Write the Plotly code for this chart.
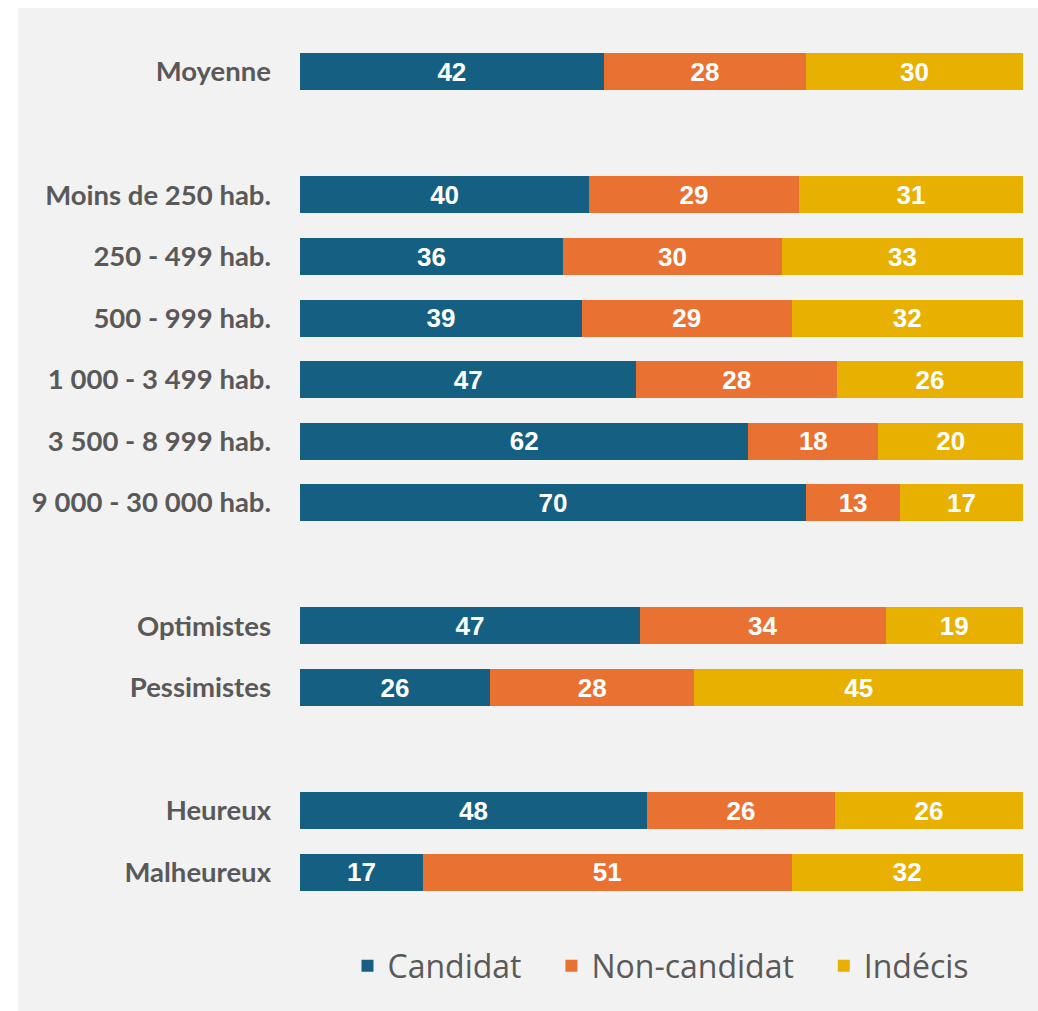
import plotly.graph_objects as go

# ---- data ----
categories_groups = [
    ["Moyenne"],
    ["Moins de 250 hab.", "250 - 499 hab.", "500 - 999 hab.", "1\u202f000 - 3\u202f499 hab.",
     "3\u202f500 - 8\u202f999 hab.", "9\u202f000 - 30\u202f000 hab."],
    ["Optimistes", "Pessimistes"],
    ["Heureux", "Malheureux"],
]
candidat =     [42, 40, 36, 39, 47, 62, 70, 47, 26, 48, 17]
non_candidat = [28, 29, 30, 29, 28, 18, 13, 34, 28, 26, 51]
indecis =      [30, 31, 33, 32, 26, 20, 17, 19, 45, 26, 32]
series_names = ["Candidat", "Non-candidat", "Indécis"]
series_colors = ["#156082", "#E97132", "#E8B000"]

# ---- row positions with blank row between groups ----
categories = []
row_pos = []
pos = 0
for gi, grp in enumerate(categories_groups):
    if gi > 0:
        pos += 1
    for c in grp:
        categories.append(c)
        row_pos.append(pos)
        pos += 1
n_slots = pos

fig = go.Figure()
for i, (name, vals, col) in enumerate(zip(series_names, [candidat, non_candidat, indecis], series_colors)):
    pad = "\u00a0\u00a0\u00a0" if i < len(series_names) - 1 else ""
    fig.add_trace(go.Bar(
        name=name + pad, y=row_pos, x=vals, orientation="h",
        marker=dict(color=col, line=dict(width=0)),
        width=0.6,
        text=vals, texttemplate="%{text}", textposition="inside",
        insidetextanchor="middle",
        textfont=dict(family="Liberation Sans, Arial, sans-serif", size=26, color="white", weight="bold"),
        hoverinfo="skip",
    ))

W, H = 1038, 1011
ml, mr, mt, mb = 300, 15, 41, 108
pw, ph = W - ml - mr, H - mt - mb

def px_x(p):  # page pixel -> paper
    return (p - ml) / pw

def px_y(p):
    return (H - mb - p) / ph

fig.update_layout(
    width=W, height=H,
    barmode="stack", barnorm="percent",
    margin=dict(l=ml, r=mr, t=mt, b=mb, pad=0),
    paper_bgcolor="white", plot_bgcolor="#F2F2F2",
    xaxis=dict(range=[0, 100], visible=False, showgrid=False, zeroline=False, fixedrange=True),
    yaxis=dict(range=[n_slots - 0.5, -0.5], tickvals=row_pos, ticktext=categories,
               showgrid=False, zeroline=False, ticks="", ticklabelstandoff=28, fixedrange=True,
               tickfont=dict(family="Lato, sans-serif", size=27.5, color="#595959", weight="bold")),
    showlegend=True,
    legend=dict(orientation="h", x=px_x(347.5), xanchor="left", y=px_y(966), yanchor="middle",
                font=dict(family="Open Sans, sans-serif", size=32, color="#595959"),
                bgcolor="rgba(0,0,0,0)", traceorder="normal"),
    shapes=[dict(type="rect", xref="paper", yref="paper",
                 x0=px_x(18), x1=px_x(1045), y0=px_y(1015), y1=px_y(8),
                 fillcolor="#F2F2F2", line=dict(width=0), layer="below")],
)

fig.write_html(
    "out.html",
    config={"displayModeBar": False},
    post_script="document.body.style.margin='0';document.body.style.overflow='hidden';",
)
